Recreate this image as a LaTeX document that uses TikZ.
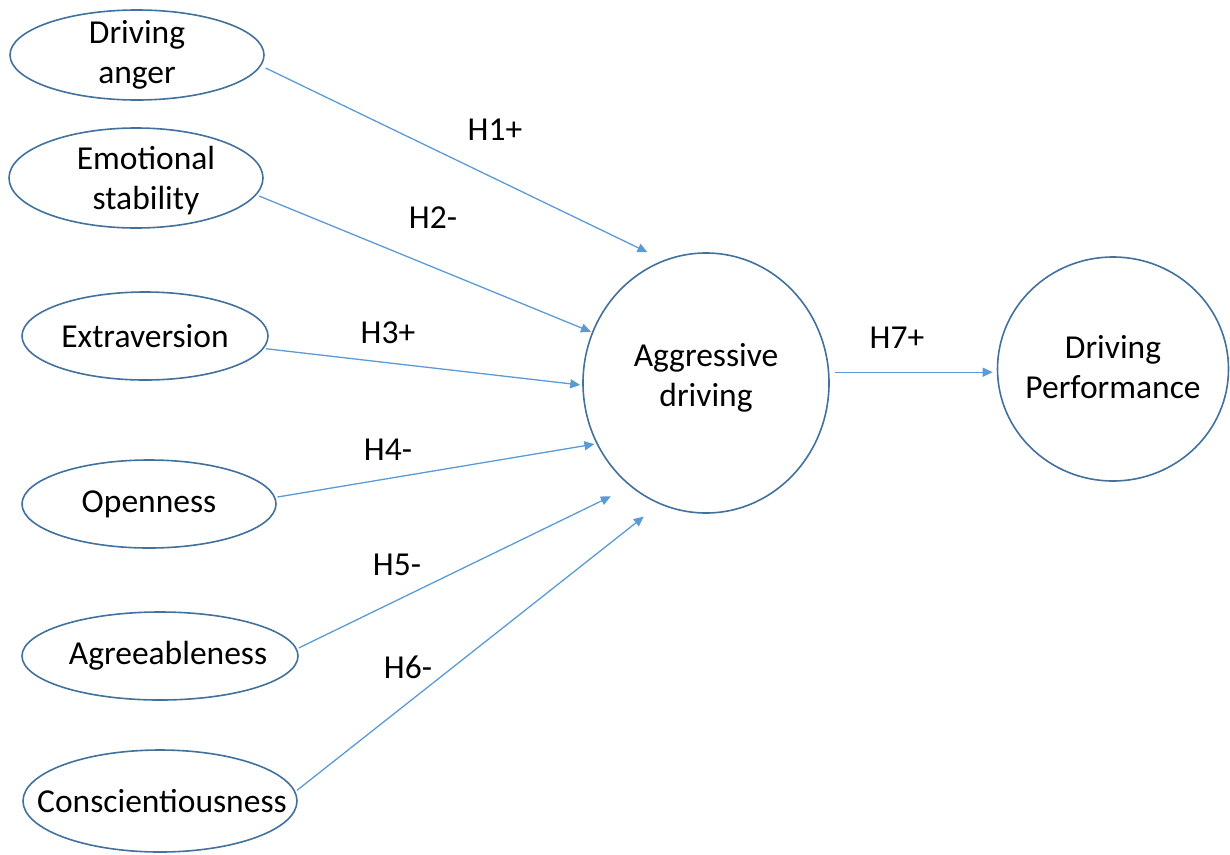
\documentclass[tikz,border=0pt]{standalone}
\usepackage{fontspec}
\setmainfont{Carlito}
\usetikzlibrary{shapes.geometric,arrows.meta}
\definecolor{rim}{HTML}{41719C}
\definecolor{linkblue}{HTML}{5B9BD5}
\begin{document}
\begin{tikzpicture}[x=1pt,y=-1pt,
  txt/.style={font=\fontsize{33.5}{40}\selectfont,align=center,inner sep=0pt},
  construct/.style={draw=rim,line width=1.6pt,ellipse,inner sep=0pt,fill=white},
  hyp/.style={draw=linkblue,line width=1.3pt,-{Triangle[length=10pt,width=9pt]}}]
\useasboundingbox (0,0) rectangle (1230,854);

% predictor constructs
\node[construct,minimum width=254pt,minimum height=90pt,
      label={[txt]center:Driving\\anger}] (da) at (137,55) {};
\node[construct,minimum width=254pt,minimum height=100pt,
      label={[txt,xshift=10pt,yshift=-3pt]center:Emotional\\stability}] (es) at (136,178) {};
\node[construct,minimum width=246pt,minimum height=88pt,
      label={[txt]center:Extraversion}] (ex) at (145,336) {};
\node[construct,minimum width=254pt,minimum height=88pt,
      label={[txt]center:Openness}] (op) at (149,504) {};
\node[construct,minimum width=276pt,minimum height=88pt,
      label={[txt,xshift=8pt]center:Agreeableness}] (ag) at (160,656) {};
\node[construct,minimum width=274pt,minimum height=102pt,
      label={[txt,xshift=2pt]center:Conscientiousness}] (cs) at (160,801) {};

% mediator and outcome
\node[construct,minimum width=246pt,minimum height=260pt,
      label={[txt,yshift=5pt]center:Aggressive\\driving}] (agg) at (706,383) {};
\node[construct,minimum width=231pt,minimum height=224pt,
      label={[txt,yshift=2pt]center:Driving\\Performance}] (dp) at (1113,369) {};

% hypothesised paths
\draw[hyp,shorten <=5pt,shorten >=18pt] (da.-5) -- (agg.109);
\draw[hyp,shorten <=3pt,shorten >=1pt] (es.-8) -- (agg.156);
\draw[hyp,shorten <=2pt,shorten >=2pt] (ex.-6) -- (agg.181);
\draw[hyp,shorten <=2pt,shorten >=2pt] (op.3) -- (agg.209);
\draw[hyp,shorten <=2pt,shorten >=22pt] (ag.3) -- (agg.234);
\draw[hyp,shorten <=2pt,shorten >=20pt] (cs.4) -- (agg.249);
\draw[hyp,shorten <=6pt,shorten >=4pt] (agg.5) -- (agg.5 -| dp.west);

% path labels
\node[txt] (h1) at (495,130) {H1+};
\node[txt] (h2) at (433,218) {H2-};
\node[txt] (h3) at (388,333) {H3+};
\node[txt] (h4) at (388,450) {H4-};
\node[txt] (h5) at (397,565) {H5-};
\node[txt] (h6) at (408,667) {H6-};
\node[txt] (h7) at (897,338) {H7+};
\end{tikzpicture}
\end{document}
